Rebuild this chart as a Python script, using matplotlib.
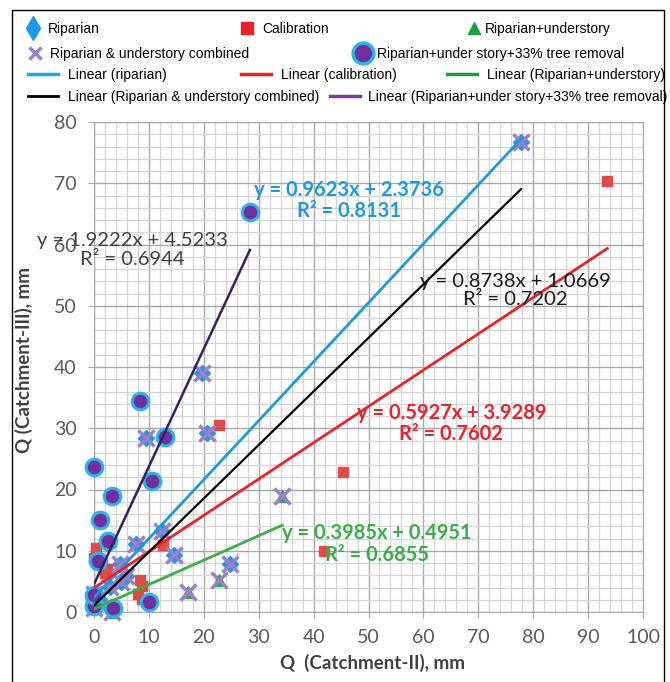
import numpy as np
import matplotlib
matplotlib.use('Agg')
import matplotlib.pyplot as plt
from matplotlib.lines import Line2D
from matplotlib.patches import Rectangle
from matplotlib.ticker import MultipleLocator

# riparian (blue diamonds)
rip_x = [0.0, 0.0, 1.0, 2.9, 4.8, 5.0, 5.9, 7.7, 9.5, 12.3, 14.6, 19.7, 20.5, 24.8, 77.8]
rip_y = [1.5, 3.0, 2.2, 4.1, 7.8, 4.9, 5.8, 11.1, 28.4, 13.3, 9.3, 39.1, 29.2, 7.8, 76.7]

# calibration (red squares)
cal_x = [0.0, 0.3, 2.0, 2.3, 8.1, 8.4, 8.7, 8.7, 12.6, 22.7, 41.9, 45.3, 93.5]
cal_y = [8.8, 10.4, 6.3, 7.1, 3.0, 5.2, 2.2, 4.3, 10.9, 30.6, 10.0, 22.9, 70.4]

# riparian + understory (green triangles)
und_x = [0.0, 3.3, 17.2, 22.8, 34.3]
und_y = [0.6, 0.0, 3.3, 5.3, 19.0]

# riparian & understory combined (crosses)
comb_x = rip_x + und_x
comb_y = rip_y + und_y

# riparian + under story + 33% tree removal (circles)
tree_x = [0.0, 0.0, 0.8, 1.1, 2.6, 3.2, 3.5, 0.0, 8.4, 10.0, 10.5, 13.0, 28.4]
tree_y = [1.0, 2.8, 8.4, 15.0, 11.6, 18.9, 0.6, 23.6, 34.5, 1.7, 21.4, 28.5, 65.3]

# trend lines as printed on the chart
slopes = {'rip': 0.9623, 'cal': 0.5927, 'und': 0.3985, 'comb': 0.8738, 'tree': 1.9222}
icepts = {'rip': 2.3736, 'cal': 3.9289, 'und': 0.4951, 'comb': 1.0669, 'tree': 4.5233}
r2 = {'rip': 0.8131, 'cal': 0.7602, 'und': 0.6855, 'comb': 0.7202, 'tree': 0.6944}

W, H = 670, 682
fig = plt.figure(figsize=(W / 100, H / 100), dpi=100)
ax = fig.add_axes([94 / W, 1 - 612 / H, 549 / W, 490 / H])

c_blue = '#1E9BD7'
c_red = '#E8232A'
c_green = '#3BAE4A'
c_cross = '#9B7FC9'
c_purple = '#7030A0'

ax.plot(rip_x, rip_y, 'D', color='#2F95D8', ms=8, clip_on=False, zorder=3)
ax.plot(cal_x, cal_y, 's', color='#DE4A47', ms=7.5, clip_on=False, zorder=3)
ax.plot(und_x, und_y, '^', color='#2EA846', ms=9, clip_on=False, zorder=3)
ax.plot(comb_x, comb_y, 'x', color=c_cross, ms=11, mew=2.5, clip_on=False, zorder=4)
ax.plot(tree_x, tree_y, 'o', mfc=c_purple, mec='#2DB4E2', mew=2.2, ms=12,
        clip_on=False, zorder=5)


def trend(key, xs, color, lw):
    x = np.array([min(xs), max(xs)])
    ax.plot(x, slopes[key] * x + icepts[key], color=color, lw=lw, zorder=6)


trend('rip', rip_x, c_blue, 2.0)
trend('cal', cal_x, c_red, 2.0)
trend('und', und_x, c_green, 2.0)
trend('comb', comb_x, 'black', 1.6)
trend('tree', tree_x, '#36215A', 1.8)


def eq(key):
    return 'y = %.4fx + %.4f\nR² = %.4f' % (slopes[key], icepts[key], r2[key])


EQ = 14.5
ax.text(46.4, 67.2, eq('rip'), color=c_blue, fontsize=EQ, fontweight='bold',
        family='Lato', ha='center', va='center', linespacing=1.1, zorder=7)
ax.text(76.7, 52.5, eq('comb'), color='#1a1a1a', fontsize=EQ,
        family='Lato', ha='center', va='center', linespacing=1.1, zorder=7)
ax.text(7.0, 59.1, eq('tree'), color='#404040', fontsize=EQ,
        family='Lato', ha='center', va='center', linespacing=1.1, zorder=7)
ax.text(65.1, 30.75, eq('cal'), color=c_red, fontsize=EQ, fontweight='bold',
        family='Lato', ha='center', va='center', linespacing=1.1, zorder=7)
ax.text(51.5, 11.1, eq('und'), color=c_green, fontsize=EQ, fontweight='bold',
        family='Lato', ha='center', va='center', linespacing=1.1, zorder=7)

ax.set_xlim(0, 100)
ax.set_ylim(0, 80)
ax.xaxis.set_major_locator(MultipleLocator(10))
ax.yaxis.set_major_locator(MultipleLocator(10))
ax.xaxis.set_minor_locator(MultipleLocator(2))
ax.yaxis.set_minor_locator(MultipleLocator(2))
ax.grid(which='minor', color='#D4D4D4', lw=0.9, zorder=0)
ax.grid(which='major', color='#A8A8A8', lw=1.0, zorder=0)
ax.set_axisbelow(True)
ax.tick_params(which='major', length=4.5, color='#A8A8A8', labelcolor='#595959',
               labelsize=14, pad=8)
ax.tick_params(which='minor', length=0)
for lab in ax.get_xticklabels() + ax.get_yticklabels():
    lab.set_family('Lato')
for s in ax.spines.values():
    s.set_color('#A8A8A8')

fig.text(372 / W, 1 - 663 / H, 'Q  (Catchment-II), mm', family='Lato',
         fontweight='bold', fontsize=13.5, color='#404040', ha='center', va='center')
fig.text(24 / W, 1 - 360 / H, 'Q (Catchment-III), mm', family='Lato',
         fontweight='bold', fontsize=13.5, color='#404040', ha='center', va='center',
         rotation=90)

# outer box
fig.patches.append(Rectangle((12 / W, -0.01), (664 - 12) / W, (H - 10) / H + 0.01,
                             transform=fig.transFigure, fill=False, ec='black',
                             lw=1.0))

FS = 10
fs_px = FS * 100 / 72


def entry(handle, label, x_text, y, hl, pad):
    x0 = x_text - (hl + pad) * fs_px
    lg = fig.legend([handle], [label], loc='center left',
                    bbox_to_anchor=(x0 / W, 1 - y / H), frameon=False,
                    borderpad=0, borderaxespad=0, handlelength=hl,
                    handletextpad=pad, numpoints=1,
                    prop={'family': 'Liberation Sans', 'size': FS})
    return lg


mk = dict(ls='none')
entry(Line2D([], [], marker='d', color='#1C9AE0', ms=12, **mk), 'Riparian', 48, 29, 1.4, 0.4)
entry(Line2D([], [], marker='s', color='#E8202A', ms=9, **mk), 'Calibration', 262, 29, 1.4, 0.4)
entry(Line2D([], [], marker='^', color='#1E9E44', ms=9, **mk), 'Riparian+understory', 485, 29, 1.2, 0.2)
entry(Line2D([], [], marker='x', color=c_cross, ms=9, mew=2.5, **mk),
      'Riparian & understory combined', 50, 54, 1.4, 0.4)
entry(Line2D([], [], marker='o', mfc=c_purple, mec='#2DB4E2', mew=2.5, ms=15, **mk),
      'Riparian+under story+33% tree removal', 377, 54, 1.4, 0.3)
entry(Line2D([], [], color='#19A9E5', lw=2.5), 'Linear (riparian)', 68, 75, 2.2, 0.7)
entry(Line2D([], [], color=c_red, lw=2.5), 'Linear (calibration)', 281, 75, 2.2, 0.7)
entry(Line2D([], [], color='#1E9E44', lw=2.5), 'Linear (Riparian+understory)', 487, 75, 2.2, 0.7)
entry(Line2D([], [], color='black', lw=2.0), 'Linear (Riparian & understory combined)', 68, 97, 2.2, 0.7)
entry(Line2D([], [], color='#7B3A9E', lw=2.5), 'Linear (Riparian+under story+33% tree removal)', 368, 97, 2.2, 0.55)

fig.savefig('out.png', dpi=100)
